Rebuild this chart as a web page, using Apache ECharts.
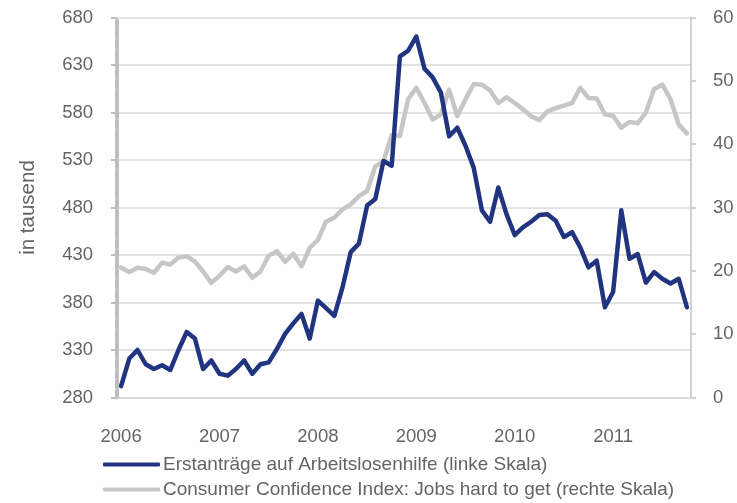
<!DOCTYPE html>
<html>
<head>
<meta charset="utf-8">
<script src="https://cdn.jsdelivr.net/npm/echarts@6/dist/echarts.min.js"></script>
<style>
  html, body { margin: 0; padding: 0; background: #fff; }
  #chart { width: 737px; height: 503px; }
</style>
</head>
<body>
<div id="chart"></div>
<script>
// monthly values, Jan 2006 .. Oct 2011
const years = ['2006', '2007', '2008', '2009', '2010', '2011'];
const monthsLastYear = 10;

const claims = [
  292, 321, 330, 315, 310, 314, 309, 330, 349, 342, 310, 319,
  305, 303, 310, 319, 305, 315, 317, 331, 347, 358, 368, 342,
  382, 374, 366, 396, 433, 442, 482, 489, 529, 524, 639, 645,
  660, 626, 617, 601, 555, 564, 545, 522, 477, 465, 501, 473,
  451, 459, 465, 472, 473, 466, 449, 454, 438, 417, 424, 375,
  391, 477, 426, 431, 401, 412, 405, 400, 405, 375
];

const jobsHard = [
  20.5, 19.8, 20.5, 20.3, 19.7, 21.3, 21.0, 22.1, 22.3, 21.5, 19.9, 18.1,
  19.2, 20.6, 19.9, 20.7, 18.9, 19.9, 22.4, 23.1, 21.4, 22.7, 20.7, 23.6,
  24.9, 27.8, 28.4, 29.7, 30.5, 31.8, 32.6, 36.5, 37.3, 41.4, 41.3, 47.1,
  48.9, 46.5, 43.9, 44.7, 48.6, 44.4, 47.1, 49.5, 49.4, 48.5, 46.5, 47.4,
  46.5, 45.5, 44.4, 43.8, 45.2, 45.7, 46.1, 46.5, 48.9, 47.3, 47.2, 44.7,
  44.5, 42.6, 43.5, 43.3, 45.0, 48.7, 49.4, 47.1, 43.1, 41.7
];

const seriesNames = [
  'Erstanträge auf Arbeitslosenhilfe (linke Skala)',
  'Consumer Confidence Index: Jobs hard to get (rechte Skala)'
];

const months = [];
years.forEach((y, i) => {
  const n = i === years.length - 1 ? monthsLastYear : 12;
  for (let m = 1; m <= n; m++) months.push(y + '-' + String(m).padStart(2, '0'));
});

const textColor = '#646464';
const font = 'Liberation Sans, Arial, sans-serif';
const fontSize = 18.5;
const isJan = (idx) => idx % 12 === 0;

// one legend per row, Excel style
const legendRow = (name, top) => ({
  left: 103,
  top: top,
  itemWidth: 57,
  itemHeight: 4,
  icon: 'roundRect',
  data: [name],
  padding: 0,
  textStyle: { fontSize: 19, color: textColor, fontFamily: font, padding: [0, 0, 0, -2] }
});

const chart = echarts.init(document.getElementById('chart'));
chart.setOption({
  animation: false,
  textStyle: { fontFamily: font },
  grid: { left: 117, right: 46, top: 17.5, bottom: 105.5 },
  legend: [
    legendRow(seriesNames[0], 455),
    legendRow(seriesNames[1], 480)
  ],
  xAxis: {
    type: 'category',
    data: months,
    boundaryGap: true,
    axisLine: { lineStyle: { color: '#d9d9d9', width: 1.5 } },
    axisTick: { interval: isJan, length: 5, lineStyle: { color: '#d9d9d9', width: 1.5 } },
    axisLabel: {
      interval: isJan,
      margin: 30,
      fontSize: fontSize,
      color: textColor,
      formatter: (v) => v.slice(0, 4)
    },
    splitLine: { show: false }
  },
  yAxis: [
    {
      type: 'value',
      min: 280,
      max: 680,
      interval: 50,
      name: 'in tausend',
      nameLocation: 'middle',
      nameGap: 78,
      nameRotate: 90,
      nameTextStyle: { fontSize: 20.5, color: textColor },
      axisLine: { show: true, lineStyle: { color: '#bdbdbd', width: 4, type: [7, 3] } },
      axisTick: { show: true, length: 6, lineStyle: { color: '#bdbdbd', width: 2 } },
      axisLabel: { margin: 24, fontSize: fontSize, color: textColor },
      splitLine: { lineStyle: { color: '#d9d9d9', width: 1.5 } }
    },
    {
      type: 'value',
      min: 0,
      max: 60,
      interval: 10,
      position: 'right',
      axisLine: { show: true, lineStyle: { color: '#c3c3c3', width: 1.5 } },
      axisTick: { show: true, length: 5, lineStyle: { color: '#c3c3c3', width: 1.5 } },
      axisLabel: { margin: 22, fontSize: fontSize, color: textColor },
      splitLine: { show: false }
    }
  ],
  series: [
    {
      name: seriesNames[1],
      type: 'line',
      yAxisIndex: 1,
      data: jobsHard,
      showSymbol: false,
      color: '#c6c6c6',
      lineStyle: { width: 4.5, color: '#c6c6c6', cap: 'round', join: 'round' },
      z: 2
    },
    {
      name: seriesNames[0],
      type: 'line',
      yAxisIndex: 0,
      data: claims,
      showSymbol: false,
      color: '#21347f',
      lineStyle: { width: 4.5, color: '#21347f', cap: 'round', join: 'round' },
      z: 3
    }
  ]
});
</script>
</body>
</html>
